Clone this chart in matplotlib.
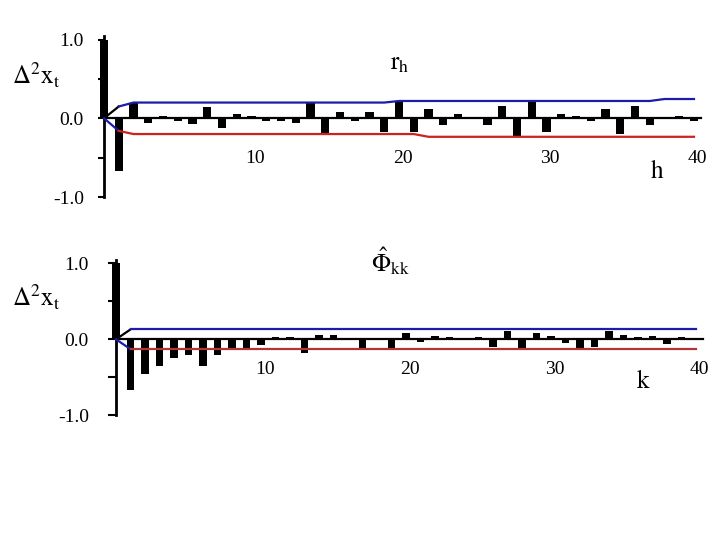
import matplotlib
matplotlib.use("Agg")
import matplotlib.pyplot as plt
import numpy as np

plt.rcParams['mathtext.fontset'] = 'stix'
plt.rcParams['font.family'] = ['Liberation Serif', 'DejaVu Serif']

# ---- data ----
lags = list(range(0, 41))
acf = [1.0, -0.665, 0.19, -0.06, 0.03, -0.04, -0.07, 0.14, -0.12, 0.055,
       0.03, -0.04, -0.04, -0.06, 0.19, -0.21, 0.085, -0.04, 0.085, -0.17,
       0.21, -0.17, 0.12, -0.09, 0.055, 0.0, -0.09, 0.16, -0.235, 0.205,
       -0.17, 0.055, 0.03, -0.04, 0.12, -0.20, 0.16, -0.09, 0.0, 0.03,
       -0.04]
acf_upper = [0.0, 0.15, 0.20, 0.20, 0.20, 0.20, 0.20, 0.20, 0.20, 0.20,
             0.20, 0.20, 0.20, 0.20, 0.20, 0.20, 0.20, 0.20, 0.20, 0.20,
             0.22, 0.22, 0.22, 0.22, 0.22, 0.22, 0.22, 0.22, 0.22, 0.22,
             0.22, 0.22, 0.22, 0.22, 0.22, 0.22, 0.22, 0.22, 0.245, 0.245,
             0.245]
acf_lower = [0.0, -0.16, -0.20, -0.20, -0.20, -0.20, -0.20, -0.20, -0.20, -0.20,
             -0.20, -0.20, -0.20, -0.20, -0.20, -0.20, -0.20, -0.20, -0.20, -0.20,
             -0.20, -0.20, -0.235, -0.235, -0.235, -0.235, -0.235, -0.235, -0.235, -0.235,
             -0.235, -0.235, -0.235, -0.235, -0.235, -0.235, -0.235, -0.235, -0.235, -0.235,
             -0.235]
pacf = [1.0, -0.67, -0.456, -0.35, -0.24, -0.21, -0.35, -0.21, -0.13, -0.14,
        -0.07, 0.026, 0.026, -0.18, 0.05, 0.05, 0.0, -0.14, 0.0, -0.14,
        0.08, -0.035, 0.044, 0.026, 0.0, 0.026, -0.10, 0.11, -0.13, 0.08,
        0.044, -0.05, -0.13, -0.10, 0.11, 0.05, 0.026, 0.044, -0.06, 0.026,
        0.0]
pacf_upper = [0.0] + [0.13] * 40
pacf_lower = [0.0] + [-0.13] * 40
xtick_vals = [10, 20, 30, 40]
ytick_major = [-1.0, 0.0, 1.0]
ytick_labels = ['-1.0', '0.0', '1.0']
ytick_minor = [-0.5, 0.5]

W, H = 720, 540
fig = plt.figure(figsize=(7.2, 5.4), dpi=100)

BLUE = '#1c1ca6'
RED_TOP = '#cc2222'
RED_BOT = '#b03535'


def make_axes(x0px, xscale, y0px, yscale, xlim=(-4, 41.5), ylim=(-1.3, 1.3)):
    left = x0px + xlim[0] * xscale
    right = x0px + xlim[1] * xscale
    top = y0px - ylim[1] * yscale
    bottom = y0px - ylim[0] * yscale
    ax = fig.add_axes([left / W, 1 - bottom / H, (right - left) / W, (bottom - top) / H])
    ax.set_xlim(*xlim)
    ax.set_ylim(*ylim)
    ax.patch.set_alpha(0)
    for s in ['top', 'right', 'bottom']:
        ax.spines[s].set_visible(False)
    ax.spines['left'].set_position(('data', 0))
    ax.spines['left'].set_linewidth(2.0)
    ax.spines['left'].set_bounds(-1.0, 1.04)
    ax.set_xticks([])
    ax.set_yticks(ytick_major)
    ax.set_yticklabels(ytick_labels)
    ax.set_yticks(ytick_minor, minor=True)
    ax.tick_params(axis='y', which='both', direction='out', width=1.5, labelsize=14)
    return ax


def draw_panel(ax, vals, upper, lower, red, label_y):
    ax.plot([0, 40.5], [0, 0], color='black', lw=1.6, zorder=2)
    ax.bar(lags, vals, width=0.55, color='black', zorder=3)
    ax.plot(lags[:2], upper[:2], color='black', lw=1.6, zorder=4)
    ax.plot(lags[1:], upper[1:], color=BLUE, lw=1.6, zorder=4)
    ax.plot(lags[:2], lower[:2], color=BLUE, lw=1.6, zorder=4)
    ax.plot(lags[1:], lower[1:], color=red, lw=1.6, zorder=4)
    for v in xtick_vals:
        ax.text(v + 0.25, label_y, str(v), ha='center', va='center', fontsize=14)


# top panel: ACF
ax1 = make_axes(104, 14.75, 118.3, 78.7)
ax1.tick_params(axis='y', which='both', length=4.5, pad=10)
draw_panel(ax1, acf, acf_upper, acf_lower, RED_TOP, -0.51)

# bottom panel: PACF
ax2 = make_axes(116, 14.5, 339.3, 76.0)
ax2.tick_params(axis='y', which='both', length=5.5, pad=14)
draw_panel(ax2, pacf, pacf_upper, pacf_lower, RED_BOT, -0.395)


def ftext(x, y, s, **kw):
    fig.text(x / W, 1 - y / H, s, **kw)


ftext(12, 84, r'$\mathrm{\Delta^{2}x_{t}}$', fontsize=18, ha='left', va='baseline')
ftext(12, 306, r'$\mathrm{\Delta^{2}x_{t}}$', fontsize=18, ha='left', va='baseline')
ftext(400, 64, r'$\mathrm{r_{h}}$', fontsize=18, ha='center', va='center')
ftext(657, 171, r'$\mathrm{h}$', fontsize=18, ha='center', va='center')
ftext(390, 261, r'$\hat{\mathrm{\Phi}}_{\mathrm{kk}}$', fontsize=18, ha='center', va='center')
ftext(643, 382, r'$\mathrm{k}$', fontsize=18, ha='center', va='center')

fig.savefig('out.png', dpi=100)
